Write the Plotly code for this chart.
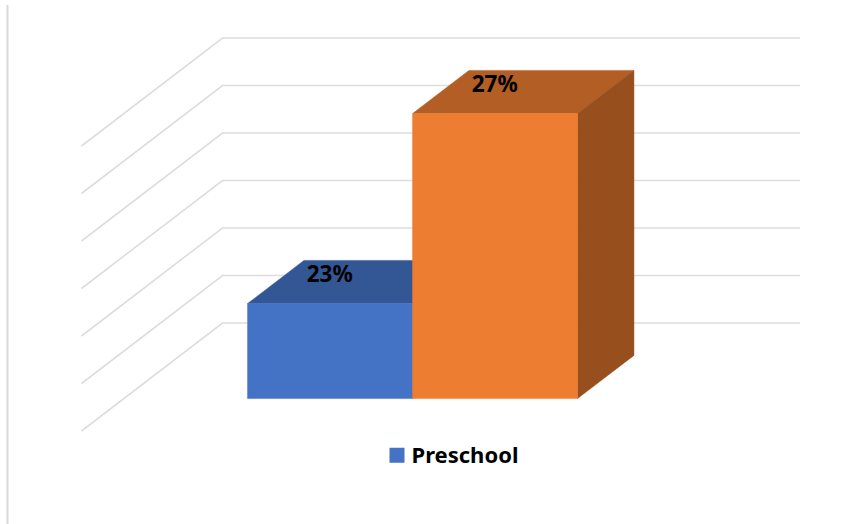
import plotly.graph_objects as go

# Data
series_name = "Preschool"
values = [23, 27]
labels = ["23%", "27%"]
grid_values = [21, 22, 23, 24, 25, 26, 27]
front_colors = ["#4472C4", "#ED7D31"]
top_colors = ["#335694", "#B25E25"]
side_colors = ["#2F5090", "#974F1E"]

AXIS_MIN = 21
N_WIDTH = 3.5          # category-axis length in bar widths
GAP = 0.75             # gap either side of the bars, in bar widths
D0, D1 = 0.3, 0.7      # bar depth extent along the floor
KX = 141 / 165         # oblique projection: depth -> category units
KY = 108 / 47.5        # oblique projection: depth -> value units
FONT = "Noto Sans"


def proj(c, v, d):
    return c + d * KX, v + d * KY


def poly(points):
    xs, ys = zip(*[proj(*p) for p in points + points[:1]])
    return list(xs), list(ys)


fig = go.Figure()

# Gridlines: side wall then back wall
gx, gy = [], []
for g in grid_values:
    xs, ys = zip(*[proj(0, g, 0), proj(0, g, 1), proj(N_WIDTH, g, 1)])
    gx += list(xs) + [None]
    gy += list(ys) + [None]
fig.add_trace(go.Scatter(x=gx, y=gy, mode="lines", line=dict(color="#DDDDDD", width=1.6),
                         hoverinfo="skip", showlegend=False))

# Bars
for i, v in enumerate(values):
    c0, c1 = GAP + i, GAP + i + 1
    faces = [
        ([(c0, v, D0), (c1, v, D0), (c1, v, D1), (c0, v, D1)], top_colors[i]),
        ([(c1, AXIS_MIN, D0), (c1, v, D0), (c1, v, D1), (c1, AXIS_MIN, D1)], side_colors[i]),
        ([(c0, AXIS_MIN, D0), (c1, AXIS_MIN, D0), (c1, v, D0), (c0, v, D0)], front_colors[i]),
    ]
    for pts, col in faces:
        x, y = poly(pts)
        fig.add_trace(go.Scatter(x=x, y=y, mode="lines", fill="toself", fillcolor=col,
                                 line=dict(color=col, width=0.5), hoverinfo="skip",
                                 showlegend=False))

# Data labels on the top faces
lx, ly = zip(*[proj(GAP + i + 0.28, v, 0.555) for i, v in enumerate(values)])
fig.add_trace(go.Scatter(x=list(lx), y=list(ly), mode="text", text=labels, textposition="middle center",
                         textfont=dict(family=FONT, size=22.5, color="#000000", weight="bold"),
                         hoverinfo="skip", showlegend=False))

# Legend entry
fig.add_trace(go.Scatter(x=[None], y=[None], mode="markers", name=series_name, visible=True,
                         marker=dict(symbol="square", size=15, color=front_colors[0])))

# Chart frame line on the left
fig.add_shape(type="line", xref="paper", yref="paper", x0=7.5 / 867, x1=7.5 / 867,
              y0=0, y1=1 - 5 / 524, line=dict(color="#D9D9D9", width=2))

W, H = 867, 524
fig.update_layout(
    width=W, height=H, margin=dict(l=0, r=0, t=0, b=0),
    paper_bgcolor="#FFFFFF", plot_bgcolor="#FFFFFF",
    xaxis=dict(range=[-81.5 / 165, (W - 81.5) / 165], visible=False, fixedrange=True),
    yaxis=dict(range=[AXIS_MIN - (H - 431) / 47.5, AXIS_MIN + 431 / 47.5], visible=False, fixedrange=True),
    showlegend=True,
    legend=dict(x=376.5 / W, y=1 - 455 / H, xanchor="left", yanchor="middle", indentation=-5,
                bgcolor="rgba(0,0,0,0)", itemwidth=30,
                font=dict(family=FONT, size=22, color="#000000", weight="bold")),
)

fig.write_html(
    "out.html",
    config={"displayModeBar": False},
    post_script=(
        "document.body.style.margin='0';"
        "document.querySelectorAll('.legendsymbols').forEach(function(g){"
        "g.style.transform='translate(5.5px,0.5px)';});"
    ),
)
